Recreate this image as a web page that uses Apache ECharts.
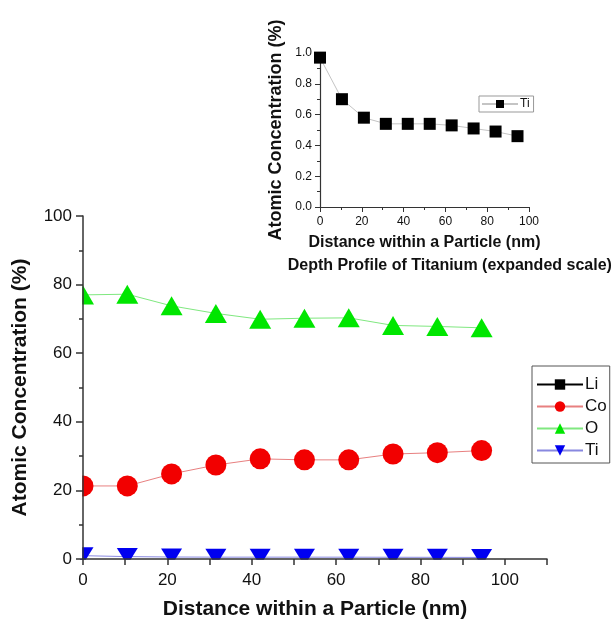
<!DOCTYPE html>
<html lang="en">
<head>
<meta charset="UTF-8">
<title>Depth profile</title>
<script src="https://cdn.jsdelivr.net/npm/echarts@6/dist/echarts.min.js"></script>
<style type="text/css">
body{margin:0; padding:0; background:#fff;}
#main{width:613px;height:623px;}
</style>
</head>
<body>
<div id="main"></div>
<script type="text/javascript">
// distance within a particle (nm)
var distance = [0, 10.5, 21, 31.5, 42, 52.5, 63, 73.5, 84, 94.5];
// atomic concentration (%)
var lithium = [];
var cobalt = [21.3, 21.3, 24.8, 27.4, 29.2, 28.9, 28.9, 30.6, 31.0, 31.6];
var oxygen = [77.0, 77.2, 73.8, 71.6, 69.9, 70.2, 70.3, 68.1, 67.8, 67.4];
var titanium = [0.97, 0.70, 0.58, 0.54, 0.54, 0.54, 0.53, 0.51, 0.49, 0.46];

function pairs(ys) {
    var out = [];
    for (var i = 0; i < ys.length; i++) out.push([distance[i], ys[i]]);
    return out;
}

var font = "'Liberation Sans', Arial, sans-serif";
var axisCol = '#333';

// main plot box
var mainL = 83, mainT = 216, mainW = 464, mainH = 343;

var myChart = echarts.init(document.getElementById('main'));

var option = {
    backgroundColor: '#fff',
    animation: false,
    textStyle: { fontFamily: font, color: '#111' },
    title: {
        text: 'Depth Profile of Titanium (expanded scale).',
        left: 447,
        top: 253,
        textAlign: 'center',
        textStyle: { fontFamily: font, fontSize: 16, fontWeight: 'bold', color: '#111' }
    },
    grid: [
        { left: mainL, top: mainT, width: mainW, height: mainH, outerBoundsMode: 'none', containLabel: false },
        { left: 320, top: 53, width: 209, height: 154, outerBoundsMode: 'none', containLabel: false }
    ],
    legend: [
        {
            data: ['Li', 'Co', 'O', 'Ti'],
            orient: 'vertical',
            left: 532,
            top: 366,
            padding: [10, 3, 4, 4],
            itemGap: 5,
            itemWidth: 46,
            itemHeight: 13,
            borderColor: '#555',
            borderWidth: 1,
            textStyle: { fontFamily: font, fontSize: 17, color: '#111', padding: [0, 0, 0, -3] }
        },
        {
            data: ['Ti inset'],
            formatter: function () { return 'Ti'; },
            left: 479,
            top: 96,
            padding: [2, 4, 2, 2],
            itemWidth: 36,
            itemHeight: 10,
            borderColor: '#999',
            borderWidth: 1,
            textStyle: { fontFamily: font, fontSize: 12, color: '#111', padding: [0, 0, 0, -3] }
        }
    ],
    xAxis: [
        {
            gridIndex: 0, type: 'value', min: 0, max: 110, interval: 10, z: 20,
            name: 'Distance within a Particle (nm)',
            nameLocation: 'middle', nameGap: 40,
            nameTextStyle: { fontFamily: font, fontSize: 21, fontWeight: 'bold', color: '#111' },
            axisLine: { lineStyle: { color: axisCol, width: 1.5 } },
            axisTick: { length: 6, lineStyle: { color: axisCol, width: 1.5 } },
            axisLabel: {
                fontSize: 17, color: '#111', margin: 13,
                formatter: function (v) { return (v % 20 === 0 && v <= 100) ? v : ''; }
            },
            splitLine: { show: false }
        },
        {
            gridIndex: 1, type: 'value', min: 0, max: 100, interval: 20,
            name: 'Distance within a Particle (nm)',
            nameLocation: 'middle', nameGap: 28,
            nameTextStyle: { fontFamily: font, fontSize: 16, fontWeight: 'bold', color: '#111' },
            axisLine: { lineStyle: { color: axisCol, width: 1.2 } },
            axisTick: { length: 5, lineStyle: { color: axisCol } },
            minorTick: { show: true, splitNumber: 2, length: 3, lineStyle: { color: axisCol } },
            axisLabel: { fontSize: 12, color: '#111', margin: 9 },
            splitLine: { show: false }
        }
    ],
    yAxis: [
        {
            gridIndex: 0, type: 'value', min: 0, max: 100, interval: 20, z: 20,
            name: 'Atomic Concentration (%)',
            nameLocation: 'middle', nameGap: 52,
            nameTextStyle: { fontFamily: font, fontSize: 21, fontWeight: 'bold', color: '#111' },
            axisLine: { show: true, lineStyle: { color: axisCol, width: 1.5 } },
            axisTick: { show: true, length: 7, lineStyle: { color: axisCol, width: 1.5 } },
            minorTick: { show: true, splitNumber: 2, length: 4, lineStyle: { color: axisCol, width: 1.5 } },
            axisLabel: { fontSize: 17, color: '#111', margin: 11 },
            splitLine: { show: false }
        },
        {
            gridIndex: 1, type: 'value', min: 0, max: 1, interval: 0.2,
            name: 'Atomic Concentration (%)',
            nameLocation: 'middle', nameGap: 35,
            nameTextStyle: { fontFamily: font, fontSize: 18, fontWeight: 'bold', color: '#111' },
            axisLine: { show: true, lineStyle: { color: axisCol, width: 1.2 } },
            axisTick: { show: true, length: 5, lineStyle: { color: axisCol } },
            minorTick: { show: true, splitNumber: 2, length: 3, lineStyle: { color: axisCol } },
            axisLabel: { fontSize: 12, color: '#111', margin: 8, formatter: function (v) { return v.toFixed(1); } },
            splitLine: { show: false }
        }
    ],
    // white strips so markers look cut at the axes, like the original plot
    graphic: {
        z: 10,
        elements: [
            { type: 'rect', z: 10, silent: true, shape: { x: mainL - 18, y: mainT - 12, width: 17.3, height: mainH + 12 }, style: { fill: '#fff' } },
            { type: 'rect', z: 10, silent: true, shape: { x: mainL - 18, y: mainT + mainH + 0.7, width: mainW + 30, height: 10 }, style: { fill: '#fff' } }
        ]
    },
    series: [
        {
            name: 'Li', type: 'line', xAxisIndex: 0, yAxisIndex: 0,
            data: pairs(lithium),
            symbol: 'rect', symbolSize: 10,
            itemStyle: { color: '#000' },
            lineStyle: { color: '#000', width: 1 }
        },
        {
            name: 'Co', type: 'line', xAxisIndex: 0, yAxisIndex: 0,
            data: pairs(cobalt),
            symbol: 'circle', symbolSize: 21,
            itemStyle: { color: '#f20000' },
            lineStyle: { color: '#e88080', width: 1 }
        },
        {
            name: 'O', type: 'line', xAxisIndex: 0, yAxisIndex: 0,
            data: pairs(oxygen),
            symbol: 'triangle', symbolSize: [22, 19],
            itemStyle: { color: '#00e600' },
            lineStyle: { color: '#80e880', width: 1 }
        },
        {
            name: 'Ti', type: 'line', xAxisIndex: 0, yAxisIndex: 0,
            data: pairs(titanium),
            symbol: 'triangle', symbolRotate: 180, symbolSize: [21, 17],
            itemStyle: { color: '#0000f0' },
            lineStyle: { color: '#8888e0', width: 1 }
        },
        {
            name: 'Ti inset', type: 'line', xAxisIndex: 1, yAxisIndex: 1,
            data: pairs(titanium),
            symbol: 'rect', symbolSize: 12,
            itemStyle: { color: '#000' },
            lineStyle: { color: '#c4c4c4', width: 1 }
        }
    ]
};
myChart.setOption(option);
</script>
</body>
</html>
